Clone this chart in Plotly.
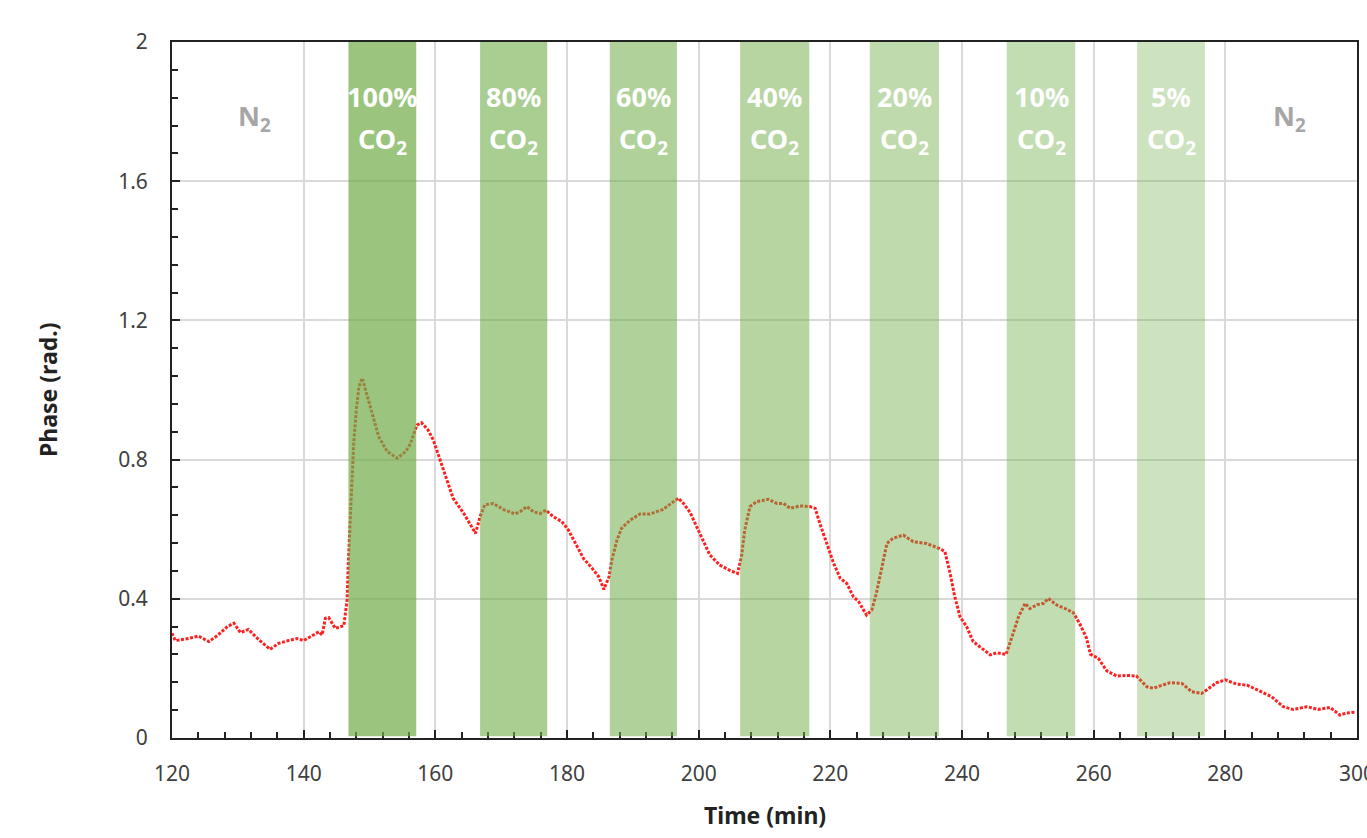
import plotly.graph_objects as go

# ---- data ----
time_min = [120, 120.5, 121.5, 122.5, 124, 125.6, 127, 128.4, 129.4, 130.4, 131.6, 133.2, 134.9,
            136.2, 137.7, 139, 140, 141.3, 142.3, 142.8, 143.3, 143.8, 144.8, 146.1, 146.3, 146.6,
            146.8, 147.1, 147.3, 147.6, 148.0, 148.4, 148.9, 149.6, 150.4, 151.4, 152.7, 154.2,
            155.5, 156.2, 157.2, 157.9, 158.9, 159.7, 160.7, 161.7, 162.7, 164.3, 165.5, 166.1,
            166.8, 167.5, 168.8, 170.3, 172.1, 172.9, 173.9, 174.9, 175.9, 176.8, 177.9, 179.2,
            180.2, 181.5, 182.5, 183.8, 184.8, 185.6, 186.4, 186.8, 187.6, 188.3, 189.6, 191.1,
            192.6, 194.6, 195.9, 196.9, 197.7, 198.7, 199.7, 200.7, 201.7, 203.2, 204.8, 205.9,
            206.5, 207.0, 207.8, 208.8, 210.6, 211.9, 212.9, 213.9, 215.4, 216.9, 217.7, 218.4,
            219.5, 220.5, 221.5, 222.5, 223.5, 224.3, 225.5, 226.3, 227.0, 227.8, 228.6, 229.5,
            231.1, 232.6, 234.6, 236.5, 237.4, 238.2, 238.9, 239.7, 240.7, 241.7, 243.0, 244.3,
            245.3, 246.7, 247.6, 248.6, 249.6, 250.3, 251.4, 252.4, 253.1, 254.4, 255.9, 256.9,
            257.9, 258.9, 259.5, 260.7, 262.0, 263.5, 265.0, 266.5, 268.1, 269.1, 270.1, 271.6,
            273.4, 274.9, 276.4, 277.7, 278.7, 280.0, 281.7, 283.3, 285.3, 287.0, 288.8, 290.3,
            292.4, 294.1, 295.9, 297.4, 298.4, 299.7]
phase_rad = [0.301, 0.280, 0.283, 0.286, 0.293, 0.277, 0.296, 0.320, 0.330, 0.303, 0.312, 0.282, 0.255,
             0.272, 0.280, 0.286, 0.280, 0.293, 0.305, 0.296, 0.344, 0.346, 0.315, 0.323, 0.349, 0.397,
             0.511, 0.655, 0.751, 0.847, 0.943, 1.010, 1.034, 0.990, 0.933, 0.866, 0.823, 0.804,
             0.823, 0.845, 0.899, 0.906, 0.885, 0.856, 0.799, 0.741, 0.689, 0.646, 0.607, 0.588,
             0.636, 0.670, 0.674, 0.657, 0.644, 0.651, 0.665, 0.650, 0.645, 0.655, 0.636, 0.622,
             0.598, 0.550, 0.516, 0.488, 0.464, 0.427, 0.464, 0.511, 0.569, 0.603, 0.626, 0.644,
             0.644, 0.657, 0.676, 0.689, 0.674, 0.648, 0.607, 0.564, 0.526, 0.497, 0.481, 0.473,
             0.521, 0.598, 0.665, 0.679, 0.686, 0.674, 0.674, 0.660, 0.667, 0.665, 0.660, 0.617,
             0.559, 0.502, 0.459, 0.444, 0.406, 0.392, 0.353, 0.368, 0.416, 0.492, 0.559, 0.574,
             0.583, 0.564, 0.559, 0.545, 0.536, 0.473, 0.406, 0.349, 0.320, 0.277, 0.258, 0.239,
             0.245, 0.240, 0.291, 0.349, 0.387, 0.372, 0.383, 0.387, 0.401, 0.382, 0.370, 0.360,
             0.328, 0.288, 0.241, 0.229, 0.193, 0.178, 0.180, 0.178, 0.147, 0.143, 0.150, 0.159,
             0.157, 0.133, 0.128, 0.147, 0.159, 0.167, 0.155, 0.152, 0.133, 0.119, 0.090, 0.082,
             0.090, 0.082, 0.088, 0.066, 0.072, 0.074]

band_start = [146.8, 166.8, 186.5, 206.3, 226.0, 246.8, 266.6]
band_end = [157.1, 177.0, 196.7, 216.8, 236.5, 257.2, 276.9]
band_co2_pct = ["100%", "80%", "60%", "40%", "20%", "10%", "5%"]
band_opacity = [0.70, 0.60, 0.55, 0.51, 0.45, 0.42, 0.35]

n2_label_time = [132.6, 289.8]

x_ticks = [120, 140, 160, 180, 200, 220, 240, 260, 280, 300]
y_ticks = [0, 0.4, 0.8, 1.2, 1.6, 2]
y_tick_text = ["0", "0.4", "0.8", "1.2", "1.6", "2"]

FONT = "Noto Sans"
GREEN = "#70AD47"

fig = go.Figure()
fig.add_trace(go.Scatter(
    x=time_min, y=phase_rad, mode="lines",
    line=dict(color="#FF1F1F", width=3, dash="3px,1.6px"),
    showlegend=False, hoverinfo="x+y"))

for s, e, op in zip(band_start, band_end, band_opacity):
    fig.add_shape(type="rect", xref="x", yref="y", x0=s, x1=e, y0=0.005, y1=2,
                  fillcolor=GREEN, opacity=op, line=dict(width=0), layer="above")

for s, e, pct in zip(band_start, band_end, band_co2_pct):
    xc = (s + e) / 2
    fig.add_annotation(x=xc, y=1.842, xref="x", yref="y", text=f"<b>{pct}</b>",
                       showarrow=False, font=dict(family=FONT, size=27, color="white"))
    fig.add_annotation(x=xc, y=1.718, xref="x", yref="y", text="<b>CO<sub>2</sub></b>",
                       showarrow=False, font=dict(family=FONT, size=27, color="white"))

for xt in n2_label_time:
    fig.add_annotation(x=xt, y=1.782, xref="x", yref="y", text="<b>N<sub>2</sub></b>",
                       showarrow=False, font=dict(family=FONT, size=27, color="#A6A6A6"))

# axis titles
fig.add_annotation(x=0.5, y=0, xref="paper", yref="paper", yshift=-77, yanchor="middle",
                   text="<b>Time (min)</b>", showarrow=False,
                   font=dict(family=FONT, size=23, color="#222222"))
fig.add_annotation(x=0, y=0.5, xref="paper", yref="paper", xshift=-124, xanchor="center",
                   textangle=-90, text="<b>Phase (rad.)</b>", showarrow=False,
                   font=dict(family=FONT, size=23, color="#222222"))

fig.update_layout(
    width=1367, height=838,
    margin=dict(l=172, r=10, t=42, b=100),
    paper_bgcolor="white", plot_bgcolor="white",
    font=dict(family=FONT, color="#404040"),
)

fig.update_xaxes(
    range=[120, 300], tickvals=x_ticks, ticks="inside", ticklen=8, tickwidth=2,
    tickcolor="#222222", showline=True, linecolor="#222222", linewidth=2, mirror=True,
    showgrid=True, gridcolor="#D9D9D9", gridwidth=2, zeroline=False, automargin=False,
    tickfont=dict(family=FONT, size=21, color="#404040"), ticklabelstandoff=16,
    ticklabeloverflow="allow",
    minor=dict(dtick=4, tick0=0, ticks="inside", ticklen=6, tickwidth=1.5, tickcolor="#222222",
               showgrid=False),
)
fig.update_yaxes(
    range=[0, 2], tickvals=y_ticks, ticktext=y_tick_text, ticks="inside", ticklen=8, tickwidth=2,
    tickcolor="#222222", showline=True, linecolor="#222222", linewidth=2, mirror=True,
    showgrid=True, gridcolor="#D9D9D9", gridwidth=2, zeroline=False, automargin=False,
    tickfont=dict(family=FONT, size=21, color="#404040"), ticklabelstandoff=18,
    minor=dict(dtick=0.08, tick0=0, ticks="inside", ticklen=6, tickwidth=1.5, tickcolor="#222222",
               showgrid=False),
)

fig.write_html("out.html")
